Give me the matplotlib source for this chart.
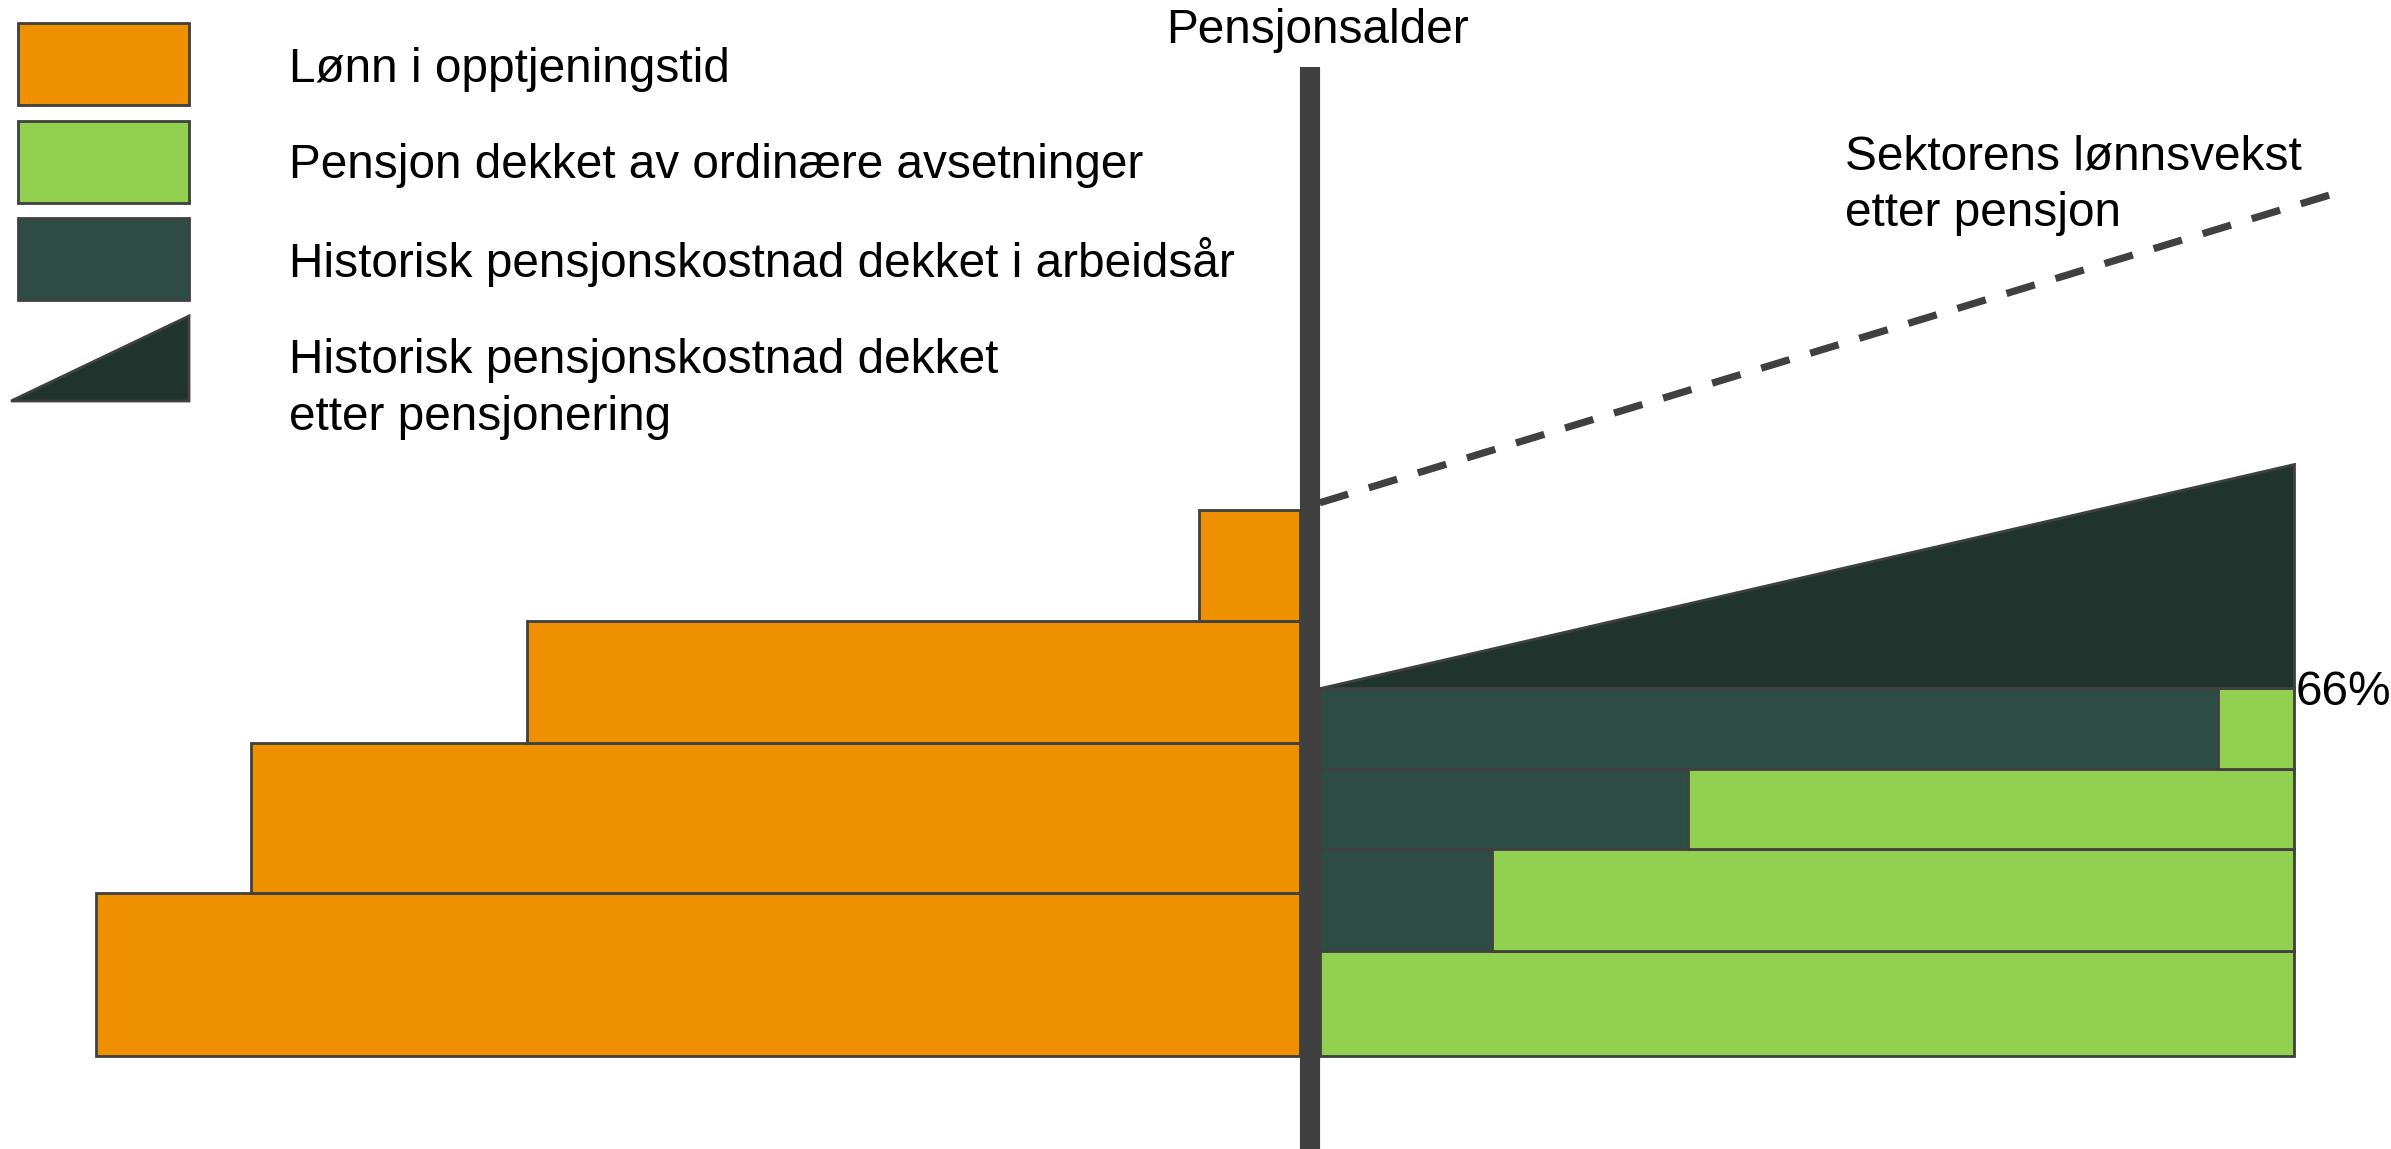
import numpy as np
import matplotlib.pyplot as plt
from matplotlib.patches import Rectangle, Polygon

plt.rcParams['font.family'] = ['Liberation Sans', 'DejaVu Sans']

# Salary during earning period (left of the retirement line), bottom to top
salary_length = [123.6, 107.7, 79.4, 10.4]
salary_height = [16.7, 15.4, 12.6, 11.4]

# Pension after retirement (right of the line), bottom to top
pension_length = 100.0
pension_height = [10.8, 10.5, 8.2, 8.3]
historic_share = [0.0, 17.7, 37.8, 92.2]   # % of pension covered by historic cost

# Cost covered after retirement (triangle) and sector wage growth line
after_rise = 23.0
wage_growth_x = [0.0, 103.7]
wage_growth_y = [56.8, 88.4]
share_label = '66%'

legend_labels = [
    ['Lønn i opptjeningstid'],
    ['Pensjon dekket av ordinære avsetninger'],
    ['Historisk pensjonskostnad dekket i arbeidsår'],
    ['Historisk pensjonskostnad dekket', 'etter pensjonering'],
]

orange = '#EE9000'
green = '#92D050'
dark = '#2D4C43'
darker = '#20332D'
edge = '#404040'
fs = 34.4

W, H = 2391, 1149
px = 9.74            # pixels per data unit
pole_x, base_y = 1310, 1056
pole_half = 1.0
pole_top = 101.5

fig = plt.figure(figsize=(W / 100, H / 100), dpi=100)
ax = fig.add_axes([0, 0, 1, 1])
ax.set_xlim(-pole_x / px, (W - pole_x) / px)
ax.set_ylim(-(H - base_y) / px, base_y / px)
ax.axis('off')

# orange salary steps
s_bottom = np.concatenate([[0], np.cumsum(salary_height)[:-1]])
ax.barh(s_bottom, [-l for l in salary_length], height=salary_height, left=-pole_half,
        align='edge', color=orange, edgecolor=edge, linewidth=2, zorder=2)

# pension rows
x0 = pole_half
p_bottom = np.concatenate([[0], np.cumsum(pension_height)[:-1]])
dark_w = [pension_length * s / 100 for s in historic_share]
green_w = [pension_length - d for d in dark_w]
ax.barh(p_bottom, dark_w, height=pension_height, left=x0, align='edge',
        color=dark, edgecolor=edge, linewidth=2, zorder=2)
ax.barh(p_bottom, green_w, height=pension_height, left=[x0 + d for d in dark_w],
        align='edge', color=green, edgecolor=edge, linewidth=2, zorder=2)

# triangle on top
top = sum(pension_height)
ax.fill([x0, x0 + pension_length, x0 + pension_length], [top, top, top + after_rise],
        color=darker, edgecolor=edge, linewidth=2, zorder=2)
ax.text(x0 + pension_length + 0.2, top - 17 / px, share_label, fontsize=fs,
        ha='left', va='baseline', zorder=5)

# dashed wage growth line
ax.plot([x0 + v for v in wage_growth_x], wage_growth_y, color=edge, linewidth=5.2,
        dashes=(4.1, 3.0), solid_capstyle='butt', zorder=3)

# retirement-age pole
ax.plot([0, 0], [-(H - base_y) / px, pole_top], color=edge, linewidth=14.5,
        solid_capstyle='butt', zorder=4)

# layout overlay in pixel coordinates
lay = fig.add_axes([0, 0, 1, 1])
lay.set_xlim(0, W)
lay.set_ylim(H, 0)
lay.axis('off')
lay.patch.set_alpha(0)

lay.text(1317, 43, 'Pensjonsalder', fontsize=fs, ha='center', va='baseline')
lay.text(1845, 170, 'Sektorens lønnsvekst', fontsize=fs, ha='left', va='baseline')
lay.text(1845, 226, 'etter pensjon', fontsize=fs, ha='left', va='baseline')

box_tops = [23, 121, 218]
for top_y, c in zip(box_tops, [orange, green, dark]):
    lay.add_patch(Rectangle((18, top_y), 171, 82, facecolor=c, edgecolor=edge, linewidth=2))
lay.add_patch(Polygon([(11, 401), (189, 316), (189, 401)], closed=True,
                      facecolor=darker, edgecolor=edge, linewidth=2))

baselines = [[82], [178], [277], [373, 430]]
for lines, ys in zip(legend_labels, baselines):
    for txt, y in zip(lines, ys):
        lay.text(289, y, txt, fontsize=fs, ha='left', va='baseline')

fig.savefig('out.png', dpi=100)
